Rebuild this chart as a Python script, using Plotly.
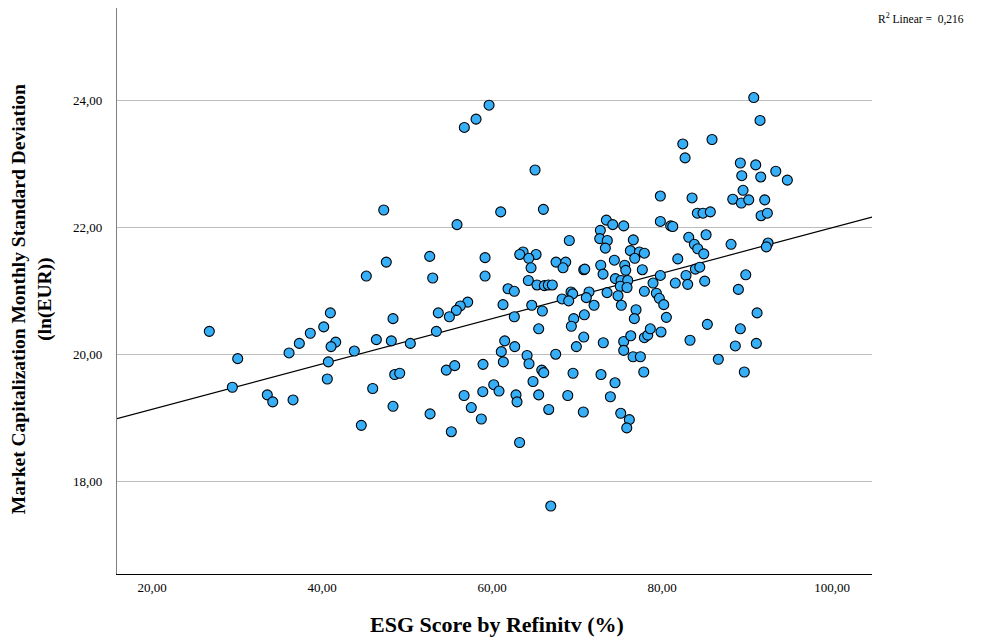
import numpy as np
import plotly.graph_objects as go

# ESG Score by Refinitiv (%)
esg = [
    26.74, 30.08, 29.45, 33.56, 34.20, 36.59, 36.12, 37.33, 38.62, 40.20,
    59.65, 58.12, 56.74, 47.26, 61.02, 55.88, 52.67, 59.18, 47.56, 53.02,
    59.18, 45.21, 61.88, 62.62, 57.14, 56.27, 55.80, 54.98, 53.68, 61.29,
    62.62, 40.98, 48.35, 53.45, 41.61, 41.06, 46.39, 48.15, 50.39, 43.80,
    40.74, 61.49, 61.09, 62.67, 61.33, 40.62, 48.55, 49.14, 54.62, 55.61,
    58.94, 45.96, 60.20, 60.82, 58.91, 56.71, 62.82, 62.94, 48.35, 57.56,
    52.71, 58.74, 44.62, 55.21, 63.24,
    65.06, 66.04, 82.44, 82.71, 85.88, 79.80, 83.53, 84.15, 84.82, 85.68,
    79.80, 81.02, 81.26, 73.45, 74.20, 75.49, 72.74, 72.67, 73.56, 73.33,
    69.09, 76.62, 76.27, 77.33, 77.92, 76.79, 83.14, 83.80, 84.20, 84.91,
    85.18, 81.85, 74.39, 63.65, 63.26, 65.18, 64.32, 64.59, 67.53, 68.67,
    68.35, 70.79, 70.91, 72.79, 73.06, 75.61, 75.73, 77.68, 64.27, 65.29,
    66.15, 66.62, 67.09, 74.51, 75.18, 75.96, 75.09, 75.88, 78.94, 79.80,
    81.56, 82.82, 83.02, 83.92, 84.44, 85.02, 69.29, 69.49, 71.41, 71.09,
    68.24, 69.02, 73.53, 74.82, 77.92, 79.33, 79.68, 80.20, 64.67, 65.92,
    72.00, 75.21, 70.86, 69.61, 69.33, 76.94, 76.74, 80.51, 65.49, 70.79,
    69.92, 73.09, 75.49, 76.32, 75.49, 77.92, 78.32, 78.62, 79.88, 83.29,
    85.33, 67.49, 64.12, 64.35, 76.59, 77.45, 86.62, 65.85, 66.08, 69.53,
    72.82, 77.85, 64.82, 74.47, 65.49, 68.91, 73.92, 66.67, 70.74, 75.14,
    76.15, 75.85, 66.91,
    90.79, 91.53, 89.21, 91.02, 89.38, 91.61, 93.38, 94.74, 89.53, 88.32,
    89.33, 90.20, 92.08, 91.65, 92.39, 88.12, 92.47, 92.27, 89.85, 88.98,
    91.18, 89.21, 88.62, 91.09, 89.68,
]

# Market Capitalization Monthly Standard Deviation (ln(EUR))
mcap = [
    20.37, 19.94, 19.49, 19.37, 19.26, 19.29, 20.03, 20.18, 20.34, 20.44,
    23.93, 23.71, 23.58, 22.28, 22.25, 22.05, 21.55, 21.53, 21.46, 21.21,
    21.24, 21.24, 21.04, 21.00, 20.83, 20.77, 20.70, 20.60, 20.66, 20.79,
    20.60, 20.66, 20.57, 20.37, 20.20, 20.13, 20.24, 20.22, 20.18, 20.06,
    19.89, 20.22, 20.05, 20.13, 19.89, 19.62, 19.69, 19.71, 19.76, 19.83,
    19.85, 19.47, 19.53, 19.43, 19.42, 19.36, 19.37, 19.26, 19.19, 19.17,
    19.07, 18.99, 18.89, 18.79, 18.62,
    22.91, 22.29, 23.32, 23.10, 23.39, 22.50, 22.47, 22.23, 22.23, 22.25,
    22.10, 22.03, 22.02, 22.12, 22.05, 22.03, 21.96, 21.83, 21.80, 21.68,
    21.80, 21.81, 21.64, 21.62, 21.60, 21.52, 21.85, 21.74, 21.67, 21.59,
    21.89, 21.51, 21.49, 21.62, 21.58, 21.58, 21.52, 21.37, 21.46, 21.46,
    21.37, 21.34, 21.35, 21.41, 21.27, 21.41, 21.33, 21.34, 21.17, 21.10,
    21.09, 21.10, 21.10, 21.20, 21.17, 21.17, 21.08, 21.06, 21.13, 21.25,
    21.13, 21.25, 21.11, 21.35, 21.38, 21.16, 20.99, 20.96, 20.99, 20.90,
    20.88, 20.85, 20.98, 20.93, 21.00, 20.97, 20.89, 20.79, 20.78, 20.69,
    20.78, 20.78, 20.63, 20.57, 20.45, 20.71, 20.57, 20.59, 20.41, 20.28,
    20.13, 20.19, 20.21, 20.30, 20.07, 20.27, 20.31, 20.41, 20.36, 20.23,
    20.48, 20.01, 19.99, 19.86, 19.97, 19.97, 19.93, 19.76, 19.72, 19.71,
    19.69, 19.73, 19.58, 19.56, 19.37, 19.36, 19.34, 19.14, 19.10, 19.08,
    18.98, 18.85, 17.62,
    24.05, 23.69, 23.02, 22.99, 22.82, 22.80, 22.89, 22.75, 22.59, 22.45,
    22.39, 22.44, 22.44, 22.19, 22.23, 21.74, 21.76, 21.70, 21.26, 21.03,
    20.66, 20.41, 20.14, 20.18, 19.73,
]

x_ticks = [20, 40, 60, 80, 100]
y_ticks = [18, 20, 22, 24]
r2_text = "0,216"

x_range = [15.88, 104.7]
y_range = [16.55, 25.46]

slope, intercept = np.polyfit(esg, mcap, 1)
line_x = np.array(x_range)
line_y = intercept + slope * line_x

serif = "Liberation Serif, Times New Roman, serif"

fig = go.Figure()
fig.add_trace(go.Scatter(
    x=line_x, y=line_y, mode="lines",
    line=dict(color="black", width=1.2),
    hoverinfo="skip", showlegend=False,
))
fig.add_trace(go.Scatter(
    x=esg, y=mcap, mode="markers",
    marker=dict(size=10, color="#36aef8", line=dict(color="black", width=1.1)),
    showlegend=False,
))

fig.update_layout(
    width=989, height=638,
    margin=dict(l=117, r=117, t=8, b=64),
    paper_bgcolor="white", plot_bgcolor="white",
    separators=",.",
    font=dict(family=serif, color="black", size=13),
    xaxis=dict(
        range=x_range, tickvals=x_ticks, tickformat=".2f",
        showgrid=False, zeroline=False, showline=True,
        linecolor="black", linewidth=1.2, ticks="",
        ticklabelstandoff=1, tickfont=dict(size=13, family=serif),
    ),
    yaxis=dict(
        range=y_range, tickvals=y_ticks, tickformat=".2f",
        showgrid=True, gridcolor="#bdbdbd", gridwidth=1,
        zeroline=False, showline=True, linecolor="#7f7f7f", linewidth=1.2,
        ticks="", ticklabelstandoff=11, tickfont=dict(size=13, family=serif),
    ),
    annotations=[
        dict(text="<b>ESG Score by Refinitv (%)</b>", xref="paper", yref="paper",
             x=0.503, y=-0.09, xanchor="center", yanchor="middle",
             showarrow=False, font=dict(size=22, family=serif)),
        dict(text="<b>Market Capitalization Monthly Standard Deviation<br>(ln(EUR))</b>",
             xref="paper", yref="paper", x=-0.113, y=0.485,
             xanchor="center", yanchor="middle", textangle=-90,
             showarrow=False, font=dict(size=19.5, family=serif)),
        dict(text="R<sup>2</sup> Linear =  " + r2_text, xref="paper", yref="paper",
             x=1.005, y=0.982, xanchor="left", yanchor="middle",
             showarrow=False, font=dict(size=11.5, family=serif)),
    ],
)

fig.write_html("out.html")
